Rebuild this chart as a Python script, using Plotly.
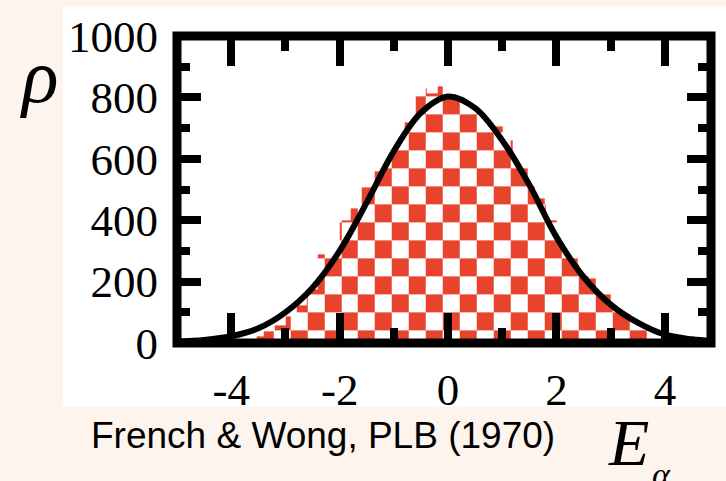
import math
import plotly.graph_objects as go

# Histogram of level energies (bin width 0.2, bins given by their centres)
bin_width = 0.2
bin_centers = [round(-4.5 + 0.2 * i, 1) for i in range(46)]
counts = [0, 1, 3, 6, 12, 22, 38, 58, 88, 122,
          175, 290, 330, 400, 440, 508, 560, 614, 662, 720,
          830, 813, 836, 804, 790, 760, 718, 707, 660, 615,
          570, 470, 400, 330, 300, 255, 210, 170, 124, 92,
          64, 42, 26, 14, 6, 2]

# Smooth Gaussian-like density curve (sampled)
curve_x = [-5.0, -4.5, -4.0, -3.5, -3.0, -2.5, -2.0, -1.5, -1.0, -0.5,
           0.0, 0.5, 1.0, 1.5, 2.0, 2.5, 3.0, 3.5, 4.0, 4.5, 4.85]
curve_y = [5, 10, 22, 48, 100, 180, 300, 458, 625, 750,
           803, 765, 660, 515, 345, 215, 125, 66, 27, 12, 7]

x_tick_vals = [-4, -2, 0, 2, 4]
x_tick_text = ["-4", "-2", "0", "2", "4"]
x_minor_vals = [-3, -1, 1, 3]
y_tick_vals = [0, 200, 400, 600, 800, 1000]
y_tick_text = ["0", "200", "400", "600", "800", "1000"]
y_minor_vals = [100, 300, 500, 700, 900]

X_RANGE = [-5.0, 4.85]
Y_RANGE = [0, 1000]
RED = "#e8432d"
PINK_BG = "#fdf4ee"

W, H = 726, 481
M_L, M_R, M_T, M_B = 177, 15, 32, 138
PLOT_W, PLOT_H = W - M_L - M_R, H - M_T - M_B

# checkerboard fill parameters
cx0, cdx = 0.22, 0.313
cy0, cdy = -17.0, 58.5

# Split the histogram area into cells bounded by bin edges, checker columns,
# checker rows and bar heights; cells above a bar stay empty (transparent).
edges = [round(c - bin_width / 2, 6) for c in bin_centers] + [round(bin_centers[-1] + bin_width / 2, 6)]
x_cuts = set(edges)
k = math.ceil((edges[0] - cx0) / cdx)
while cx0 + k * cdx < edges[-1]:
    x_cuts.add(round(cx0 + k * cdx, 6))
    k += 1
x_cuts = sorted(x_cuts)

top = max(counts)
y_cuts = {0.0}
r = 1
while cy0 + r * cdy < top:
    if cy0 + r * cdy > 0:
        y_cuts.add(round(cy0 + r * cdy, 6))
    r += 1
y_cuts |= {float(h) for h in counts if h > 0}
y_cuts = sorted(y_cuts)

z = []
for j in range(len(y_cuts) - 1):
    ylo, yhi = y_cuts[j], y_cuts[j + 1]
    row = math.floor(((ylo + yhi) / 2 - cy0) / cdy)
    zr = []
    for i in range(len(x_cuts) - 1):
        xm = (x_cuts[i] + x_cuts[i + 1]) / 2
        b = min(int((xm - edges[0]) / bin_width), len(counts) - 1)
        col = math.floor((xm - cx0) / cdx)
        zr.append((1 if (col + row) % 2 == 0 else 0) if yhi <= counts[b] + 1e-9 else None)
    z.append(zr)

fig = go.Figure()
fig.add_trace(go.Heatmap(
    x=x_cuts, y=y_cuts, z=z, zmin=0, zmax=1,
    colorscale=[[0, "white"], [1, RED]], showscale=False, hoverinfo="skip",
))
fig.add_trace(go.Scatter(
    x=curve_x, y=curve_y, mode="lines", line=dict(color="black", width=6, shape="spline"),
    hoverinfo="skip", showlegend=False,
))

tick_font = dict(family="Liberation Serif", size=45, color="black")
fig.update_xaxes(
    range=X_RANGE, showgrid=False, zeroline=False,
    showline=True, linewidth=1, linecolor="black",
    tickmode="array", tickvals=x_tick_vals, ticktext=x_tick_text,
    ticks="inside", ticklen=30, tickwidth=8, tickcolor="black", mirror="allticks",
    minor=dict(tickmode="array", tickvals=x_minor_vals, ticks="inside",
               ticklen=15, tickwidth=8, tickcolor="black", showgrid=False),
    tickfont=tick_font, ticklabelstandoff=7, layer="above traces",
)
fig.update_yaxes(
    range=Y_RANGE, showgrid=False, zeroline=False,
    showline=True, linewidth=1, linecolor="black",
    tickmode="array", tickvals=y_tick_vals, ticktext=y_tick_text,
    ticks="inside", ticklen=24, tickwidth=8, tickcolor="black", mirror="allticks",
    minor=dict(tickmode="array", tickvals=y_minor_vals, ticks="inside",
               ticklen=13, tickwidth=8, tickcolor="black", showgrid=False),
    tickfont=tick_font, ticklabelstandoff=9, layer="above traces",
)

def px_to_paper_x(px):
    return (px - M_L) / PLOT_W

def px_to_paper_y(py):
    return (H - M_B - py) / PLOT_H

fig.update_layout(
    width=W, height=H,
    margin=dict(l=M_L, r=M_R, t=M_T, b=M_B),
    paper_bgcolor=PINK_BG, plot_bgcolor="white",
    showlegend=False,
    shapes=[
        # white panel behind the plot and its tick labels
        dict(type="rect", xref="paper", yref="paper",
             x0=px_to_paper_x(63), x1=px_to_paper_x(740),
             y0=px_to_paper_y(407), y1=px_to_paper_y(3),
             fillcolor="white", line=dict(width=0), layer="below"),
        # heavy frame around the plotting area
        dict(type="rect", xref="paper", yref="paper", x0=0, x1=1, y0=0, y1=1,
             line=dict(color="black", width=9), layer="above"),
    ],
    annotations=[
        dict(text="<i>ρ</i>", xref="paper", yref="paper",
             x=px_to_paper_x(39), y=px_to_paper_y(73), showarrow=False,
             font=dict(family="Liberation Serif", size=76, color="black"),
             xanchor="center", yanchor="middle"),
        dict(text="French &amp; Wong, PLB (1970)", xref="paper", yref="paper",
             x=px_to_paper_x(323), y=px_to_paper_y(437), showarrow=False,
             font=dict(family="Liberation Sans", size=37, color="black"),
             xanchor="center", yanchor="middle"),
        dict(text="<i>E</i>", xref="paper", yref="paper",
             x=px_to_paper_x(628), y=px_to_paper_y(444), showarrow=False,
             font=dict(family="Liberation Serif", size=66, color="black"),
             xanchor="center", yanchor="middle"),
        dict(text="<i>α</i>", xref="paper", yref="paper",
             x=px_to_paper_x(661), y=px_to_paper_y(476), showarrow=False,
             font=dict(family="Liberation Serif", size=34, color="black"),
             xanchor="center", yanchor="middle"),
    ],
)

fig.write_html("out.html")
